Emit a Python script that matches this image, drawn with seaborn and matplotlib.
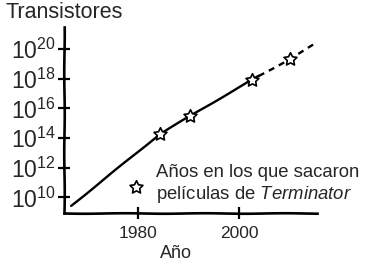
import matplotlib
matplotlib.use("Agg")
import matplotlib.pyplot as plt
import seaborn as sns
import pandas as pd

# ---- data ----
solid_years = [1966.9, 1984.4, 1990.3, 2002.4, 2003.8]
solid_exp = [9.43, 14.28, 15.49, 17.91, 18.18]
dashed_years = [2003.8, 2010.0, 2015.2]
dashed_exp = [18.18, 19.33, 20.42]
movie_years = [1984.4, 1990.3, 2002.4, 2010.0]
movie_exp = [14.28, 15.49, 17.91, 19.33]
x_ticks = [1980, 2000]
y_tick_exp = [10, 12, 14, 16, 18, 20]

sns.set_style("white")
plt.rcParams["font.family"] = ["Liberation Sans", "DejaVu Sans"]
plt.rcParams["mathtext.fontset"] = "custom"
plt.rcParams["mathtext.rm"] = "Liberation Sans"
plt.rcParams["mathtext.it"] = "Liberation Sans:italic"

solid = pd.DataFrame({"year": solid_years, "n": [10.0 ** e for e in solid_exp]})
dashed = pd.DataFrame({"year": dashed_years, "n": [10.0 ** e for e in dashed_exp]})
movies = pd.DataFrame({"year": movie_years, "n": [10.0 ** e for e in movie_exp]})

fig = plt.figure(figsize=(3.8, 2.66), dpi=100)
ax = fig.add_axes([64 / 380, 1 - 212.6 / 266, 252.7 / 380, 185.6 / 266])
ax.set_yscale("log")

sns.lineplot(data=solid, x="year", y="n", ax=ax, color="black", lw=1.7, sort=False)
sns.lineplot(data=dashed, x="year", y="n", ax=ax, color="black", lw=1.7, sort=False)
ax.lines[-1].set_dashes((2.6, 2.2))
for ln in ax.lines:
    ln.set_sketch_params(0.25, 80, 1)

sns.scatterplot(data=movies, x="year", y="n", ax=ax, marker=(5, 1, 0), s=95,
                facecolor="white", edgecolor="black", linewidth=1.2, zorder=5,
                label="Años en los que sacaron\npelículas de $\\it{Terminator}$")

ax.set_xlim(1965.5, 2015.2)
ax.set_ylim(10 ** 8.98, 10 ** 21.48)
ax.set_xticks(x_ticks)
ax.set_xticklabels([str(t) for t in x_ticks], fontsize=12.5)
ax.set_yticks([10.0 ** e for e in y_tick_exp])
ax.set_yticklabels([f"$10^{{{e}}}$" for e in y_tick_exp], fontsize=16.5)
ax.minorticks_off()
ax.tick_params(axis="both", left=True, bottom=True, direction="inout", length=8,
               width=1.6, color="black", pad=2)
ax.tick_params(axis="x", pad=6)

for side in ["top", "right"]:
    ax.spines[side].set_visible(False)
for side in ["left", "bottom"]:
    ax.spines[side].set_linewidth(1.9)
    ax.spines[side].set_color("black")
    ax.spines[side].set_sketch_params(0.25, 80, 1)

ax.set_ylabel("")
ax.set_xlabel("Año", fontsize=13)
ax.xaxis.set_label_coords(0.443, -0.175)

fig.text(6 / 380, 1 - 2 / 266, "Transistores", fontsize=15.5, ha="left", va="top")

ax.legend(loc="center left", bbox_to_anchor=(0.25, 0.149), frameon=False,
          fontsize=13.3, borderpad=0, borderaxespad=0, handlelength=1.0,
          handletextpad=0.55, labelspacing=0)

fig.savefig("out.png", dpi=100)
